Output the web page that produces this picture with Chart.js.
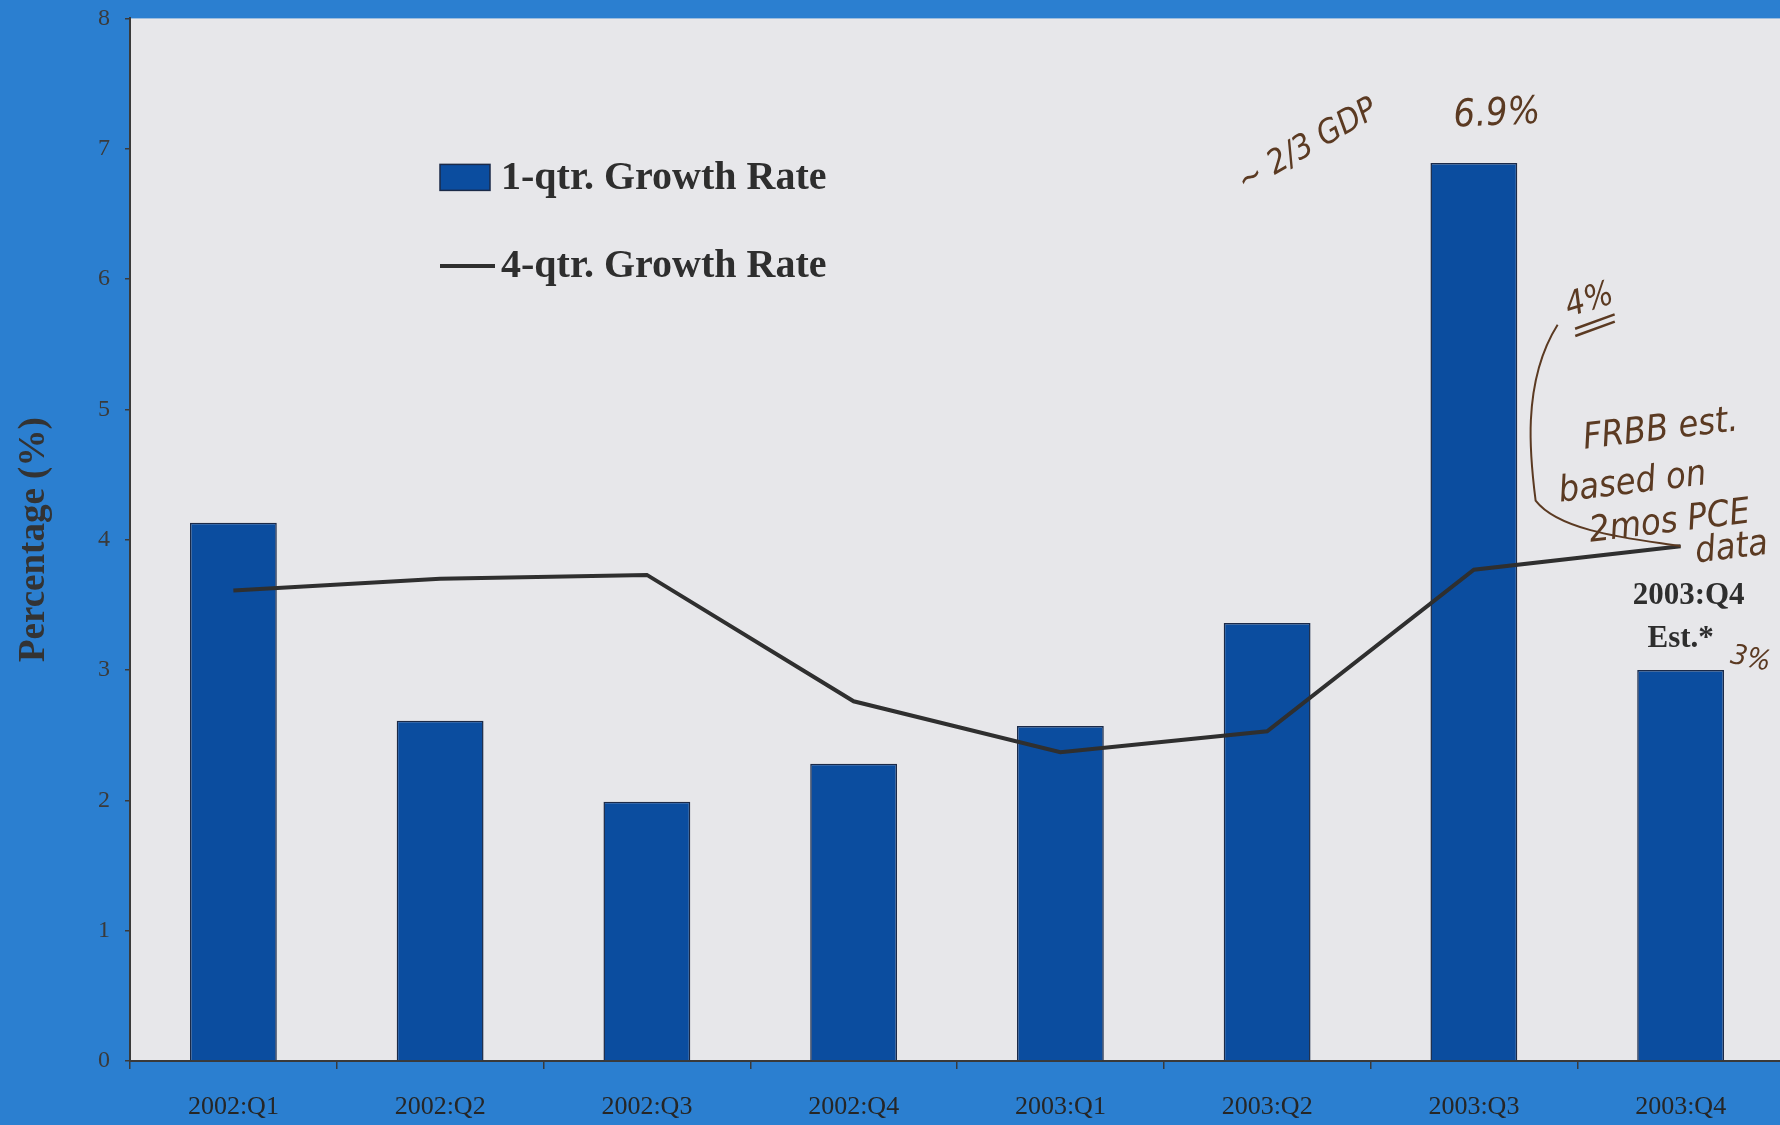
<!DOCTYPE html>
<html>
<head>
<meta charset="utf-8">
<script src="https://cdn.jsdelivr.net/npm/chart.js@4/dist/chart.umd.min.js"></script>
<style>
  html, body { margin: 0; padding: 0; background: #2b7fd0; overflow: hidden; }
  #wrap { position: absolute; left: 0; top: -11px; width: 1784px; height: 1136px; }
</style>
</head>
<body>
<div id="wrap"><canvas id="c" width="1784" height="1136"></canvas></div>
<script>
const categories = ["2002:Q1", "2002:Q2", "2002:Q3", "2002:Q4", "2003:Q1", "2003:Q2", "2003:Q3", "2003:Q4"];
const oneQtrGrowth = [4.13, 2.61, 1.99, 2.28, 2.57, 3.36, 6.89, 3.0];
const fourQtrGrowth = [3.61, 3.70, 3.73, 2.76, 2.37, 2.53, 3.77, 3.95];
const yTicks = [0, 1, 2, 3, 4, 5, 6, 7, 8];
const legendLabels = ["1-qtr. Growth Rate", "4-qtr. Growth Rate"];
const notes = {
  estLabel: ["2003:Q4", "Est.*"],
  gdp: "~ 2/3 GDP",
  peak: "6.9%",
  four: "4%",
  frbb: ["FRBB est.", "based on", "2mos PCE", "data"],
  three: "3%"
};

const BAR = "#0b4d9f";
const LINE = "#2f2f2f";
const INK = "#5b3a22";
const TEXT = "#2e2e2e";
const HAND = "'DejaVu Sans Condensed', 'DejaVu Sans', sans-serif";

const bgPlugin = {
  id: "plotBg",
  beforeDraw(chart) {
    const { ctx, chartArea: a } = chart;
    ctx.save();
    ctx.fillStyle = "#e7e7ea";
    ctx.fillRect(a.left, a.top, a.right - a.left, a.bottom - a.top);
    ctx.restore();
  }
};

const notesPlugin = {
  id: "notes",
  afterDraw(chart) {
    const { ctx, chartArea: a, scales } = chart;
    const xs = scales.x, ys = scales.y;
    ctx.save();
    // Legend
    const lx = a.left + 310, ly1 = ys.getPixelForValue(6.78), ly2 = ys.getPixelForValue(6.10);
    ctx.font = "bold 40px 'Liberation Serif', serif";
    ctx.textBaseline = "middle";
    ctx.textAlign = "left";
    ctx.fillStyle = BAR;
    ctx.strokeStyle = "#1b2a48";
    ctx.lineWidth = 1.5;
    ctx.fillRect(lx, ly1 - 13, 50, 26);
    ctx.strokeRect(lx, ly1 - 13, 50, 26);
    ctx.fillStyle = TEXT;
    ctx.fillText(legendLabels[0], lx + 61, ly1 + 1);
    ctx.strokeStyle = LINE;
    ctx.lineWidth = 4;
    ctx.beginPath();
    ctx.moveTo(lx, ly2);
    ctx.lineTo(lx + 55, ly2);
    ctx.stroke();
    ctx.fillText(legendLabels[1], lx + 61, ly2 + 1);

    // Printed estimate label
    const x7 = xs.getPixelForValue(7);
    const x6 = xs.getPixelForValue(6);
    ctx.textAlign = "center";
    ctx.font = "bold 31px 'Liberation Serif', serif";
    ctx.fillText(notes.estLabel[0], x7 + 8, ys.getPixelForValue(3.57));
    ctx.fillText(notes.estLabel[1], x7, ys.getPixelForValue(3.24));

    // Handwritten notes
    ctx.fillStyle = INK;
    ctx.strokeStyle = INK;

    ctx.save();
    ctx.translate(x6 + 23, ys.getPixelForValue(7.26));
    ctx.rotate(-0.05);
    ctx.font = "italic 38px " + HAND;
    ctx.fillText(notes.peak, 0, 0);
    ctx.restore();

    ctx.save();
    ctx.translate(x6 - 166, ys.getPixelForValue(7.02));
    ctx.rotate(-0.52);
    ctx.font = "italic 33px " + HAND;
    ctx.fillText(notes.gdp, 0, 0);
    ctx.restore();

    ctx.save();
    ctx.translate(x7 - 91, ys.getPixelForValue(5.83));
    ctx.rotate(-0.3);
    ctx.font = "italic 34px " + HAND;
    ctx.fillText(notes.four, 0, 0);
    ctx.lineWidth = 2.5;
    ctx.beginPath();
    ctx.moveTo(-22, 22); ctx.lineTo(20, 20);
    ctx.moveTo(-24, 29); ctx.lineTo(18, 27);
    ctx.stroke();
    ctx.restore();

    ctx.font = "italic 36px " + HAND;
    const frbbPos = [[-20, 4.84], [-48, 4.43], [-11, 4.13], [51, 3.93]];
    notes.frbb.forEach((t, i) => {
      ctx.save();
      ctx.translate(x7 + frbbPos[i][0], ys.getPixelForValue(frbbPos[i][1]));
      ctx.rotate(-0.12);
      ctx.fillText(t, 0, 0);
      ctx.restore();
    });

    ctx.save();
    ctx.translate(x7 + 70, ys.getPixelForValue(3.08));
    ctx.rotate(0.2);
    ctx.font = "italic 28px " + HAND;
    ctx.fillText(notes.three, 0, 0);
    ctx.restore();

    // Curved pointer to last line point
    const ex = x7, ey = ys.getPixelForValue(fourQtrGrowth[7]);
    ctx.lineWidth = 2;
    ctx.beginPath();
    ctx.moveTo(ex - 123, ys.getPixelForValue(5.65));
    ctx.bezierCurveTo(ex - 160, ys.getPixelForValue(5.2), ex - 150, ys.getPixelForValue(4.6), ex - 145, ys.getPixelForValue(4.3));
    ctx.bezierCurveTo(ex - 120, ys.getPixelForValue(4.05), ex - 40, ys.getPixelForValue(4.0), ex, ey);
    ctx.stroke();
    ctx.restore();
  }
};

new Chart(document.getElementById("c"), {
  data: {
    labels: categories,
    datasets: [
      {
        type: "line",
        label: legendLabels[1],
        data: fourQtrGrowth,
        borderColor: LINE,
        borderWidth: 4,
        pointRadius: 0,
        tension: 0,
        order: 0
      },
      {
        type: "bar",
        label: legendLabels[0],
        data: oneQtrGrowth,
        backgroundColor: BAR,
        borderColor: "#1b2a48",
        borderWidth: 1.5,
        barPercentage: 0.42,
        categoryPercentage: 1,
        order: 1
      }
    ]
  },
  options: {
    responsive: false,
    animation: false,
    layout: { padding: { top: 17, left: 0, right: 0, bottom: 0 } },
    plugins: { legend: { display: false }, tooltip: { enabled: false } },
    scales: {
      x: {
        offset: true,
        grid: { offset: true, drawOnChartArea: false, drawTicks: true, tickLength: 8, color: "#3a3a3a", lineWidth: 1.5 },
        border: { display: true, color: "#3a3a3a", width: 2 },
        ticks: { color: "#262626", padding: 23, font: { family: "'Liberation Serif', serif", size: 26 }, maxRotation: 0 },
        afterFit(s) { s.height = 64; }
      },
      y: {
        min: 0,
        max: 8,
        afterBuildTicks(s) { s.ticks = yTicks.map(v => ({ value: v })); },
        grid: { drawOnChartArea: false, drawTicks: true, tickLength: 5, color: "#3a3a3a", lineWidth: 1.5 },
        border: { display: true, color: "#3a3a3a", width: 2 },
        ticks: { color: "#3a3a3a", padding: 15, font: { family: "'Liberation Serif', serif", size: 24 } },
        title: {
          display: true,
          text: "Percentage (%)",
          color: "#333",
          font: { family: "'Liberation Serif', serif", size: 37, weight: "bold" },
          padding: { top: 12, bottom: 0 }
        },
        afterFit(s) { s.width = 130; }
      }
    }
  },
  plugins: [bgPlugin, notesPlugin]
});
</script>
</body>
</html>
